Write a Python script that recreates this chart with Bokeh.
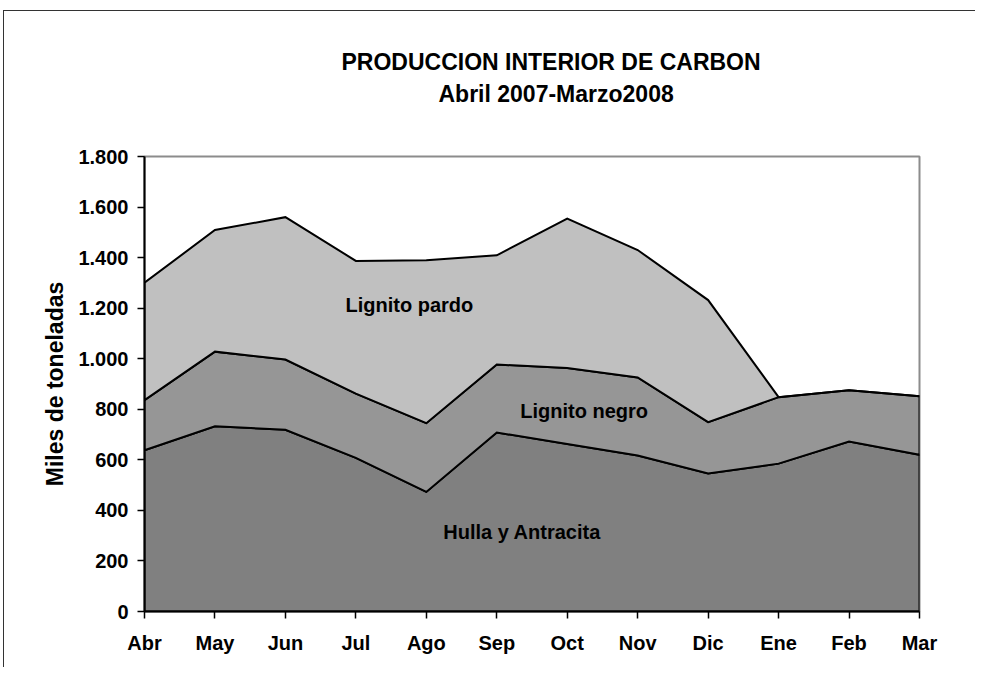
import numpy as np
from bokeh.plotting import figure
from bokeh.models import Range1d, FixedTicker, Label, Title
from bokeh.embed import file_html
from bokeh.resources import INLINE

# ---- data ----
months = ["Abr", "May", "Jun", "Jul", "Ago", "Sep", "Oct", "Nov", "Dic", "Ene", "Feb", "Mar"]
hulla = [638, 733, 719, 608, 473, 708, 663, 617, 546, 585, 672, 620]
lignito_negro = [198, 295, 278, 254, 272, 269, 300, 309, 203, 263, 203, 232]
lignito_pardo = [465, 481, 563, 525, 645, 432, 591, 504, 483, 0, 0, 0]
series_names = ["Hulla y Antracita", "Lignito negro", "Lignito pardo"]
y_ticks = [0, 200, 400, 600, 800, 1000, 1200, 1400, 1600, 1800]
y_tick_labels = ["0", "200", "400", "600", "800", "1.000", "1.200", "1.400", "1.600", "1.800"]
title_lines = ["PRODUCCION INTERIOR DE CARBON", "Abril 2007-Marzo2008"]
y_label = "Miles de toneladas"

FONT = "Liberation Sans"
colors = ["#808080", "#969696", "#C0C0C0"]

x = list(range(len(months)))
lo1 = np.zeros(len(months))
hi1 = lo1 + np.array(hulla)
hi2 = hi1 + np.array(lignito_negro)
hi3 = hi2 + np.array(lignito_pardo)
layers = [(lo1, hi1), (hi1, hi2), (hi2, hi3)]

chart_border = ("linear-gradient(#333333,#333333) 3px 10px / 1px calc(100% - 10px) no-repeat, "
                "linear-gradient(#333333,#333333) 3px 10px / calc(100% - 3px) 1px no-repeat, white")

p = figure(width=975, height=667, output_backend="svg", toolbar_location=None,
           x_range=Range1d(0, len(months) - 1), y_range=Range1d(0, 1800),
           min_border_left=144, min_border_right=56, min_border_top=156, min_border_bottom=56,
           background_fill_color="white", border_fill_color=None,
           styles={"background": chart_border})

for (lo, hi), c in zip(layers, colors):
    xs = x + x[::-1]
    ys = list(hi) + list(lo[::-1])
    p.patch(xs, ys, fill_color=c, line_color="black", line_width=2, line_join="miter")

p.grid.visible = False
p.outline_line_color = "#8c8c8c"
p.outline_line_width = 2

p.xaxis.ticker = FixedTicker(ticks=x)
p.xaxis.major_label_overrides = {i: m for i, m in zip(x, months)}
p.yaxis.ticker = FixedTicker(ticks=y_ticks)
p.yaxis.major_label_overrides = {t: l for t, l in zip(y_ticks, y_tick_labels)}

for ax in (p.xaxis[0], p.yaxis[0]):
    ax.axis_line_color = "black"
    ax.axis_line_width = 2
    ax.major_tick_out = 7
    ax.major_tick_in = 0
    ax.minor_tick_line_color = None
    ax.major_tick_line_color = "black"
    ax.major_tick_line_width = 1.5
    ax.major_label_text_font = FONT
    ax.major_label_text_font_style = "bold"
    ax.major_label_text_font_size = "20px"
    ax.major_label_text_color = "black"

p.xaxis.major_label_standoff = 13
p.yaxis.major_label_standoff = 9
p.yaxis.axis_label = y_label
p.yaxis.axis_label_text_font = FONT
p.yaxis.axis_label_text_font_style = "bold"
p.yaxis.axis_label_text_font_size = "23px"
p.yaxis.axis_label_text_color = "black"
p.yaxis.axis_label_standoff = 7

# Series labels inside the areas
label_pos = [(5.36, 313), (6.24, 792), (3.76, 1212)]
for name, (lx, ly) in zip(series_names, label_pos):
    p.add_layout(Label(x=lx, y=ly, text=name, text_align="center", text_baseline="middle",
                       text_font=FONT, text_font_style="bold", text_font_size="20px",
                       text_color="black"))

# Title lines: an invisible spacer nearest the frame, then line 2, then line 1
p.title.text = ""
p.title.visible = False
spacer = Title(text=" ", standoff=20, text_font=FONT, text_font_size="23px", text_color="white")
t2 = Title(text=title_lines[1], align="left", offset=294, standoff=4,
           text_font=FONT, text_font_style="bold", text_font_size="23px", text_color="black")
t1 = Title(text=title_lines[0], align="left", offset=197, standoff=4,
           text_font=FONT, text_font_style="bold", text_font_size="23px", text_color="black")
p.add_layout(spacer, "above")
p.add_layout(t2, "above")
p.add_layout(t1, "above")

open("out.html", "w").write(file_html(p, INLINE))
